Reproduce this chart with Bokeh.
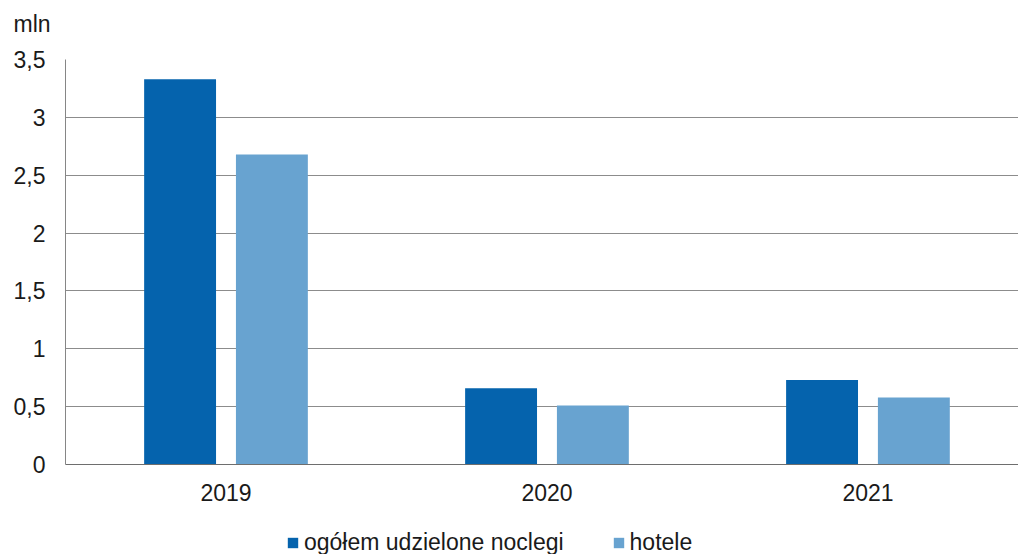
from bokeh.plotting import figure
from bokeh.layouts import column
from bokeh.models import ColumnDataSource, Range1d, FixedTicker, Title, Legend, LegendItem
from bokeh.transform import dodge
from bokeh.embed import file_html
from bokeh.resources import INLINE

years = ["2019", "2020", "2021"]
ogolem = [3.33, 0.66, 0.73]
hotele = [2.68, 0.51, 0.58]
y_ticks = [0, 0.5, 1, 1.5, 2, 2.5, 3, 3.5]
series_names = ["ogółem udzielone noclegi", "hotele"]
unit = "mln"

DARK = "#0563ad"
LIGHT = "#68a3d0"
FONT = "Liberation Sans"
FS = "23px"

xs = [i + 0.5 for i in range(len(years))]
src = ColumnDataSource(dict(x=xs, ogolem=ogolem, hotele=hotele))


def blank(fig):
    fig.outline_line_color = None
    fig.xgrid.grid_line_color = None
    fig.ygrid.grid_line_color = None


# top strip with the unit title
top = figure(width=1018, height=44, output_backend="svg", toolbar_location=None,
             x_range=Range1d(0, 1), y_range=Range1d(0, 1),
             min_border_left=65, min_border_right=0, min_border_top=36, min_border_bottom=0,
             x_axis_type=None, y_axis_type=None)
blank(top)
top.add_layout(Title(text=unit, text_font=FONT, text_font_size=FS,
                     text_font_style="normal", text_color="#1a1a1a",
                     align="left", offset=-52, standoff=0), "above")

# main chart
p = figure(width=1018, height=466, output_backend="svg", toolbar_location=None,
           x_range=Range1d(0, 2.969), y_range=Range1d(0, 3.5),
           min_border_left=65, min_border_right=0, min_border_top=15, min_border_bottom=46)
p.outline_line_color = None

p.vbar(x=dodge("x", -0.143), top="ogolem", width=0.224, source=src,
       fill_color=DARK, line_color=None)
p.vbar(x=dodge("x", 0.143), top="hotele", width=0.224, source=src,
       fill_color=LIGHT, line_color=None)

p.xgrid.grid_line_color = None
p.ygrid.grid_line_color = "#8c8c8c"
p.ygrid.ticker = FixedTicker(ticks=y_ticks)

p.yaxis.ticker = FixedTicker(ticks=y_ticks)
p.yaxis.major_label_overrides = {t: (f"{t:g}").replace(".", ",") for t in y_ticks}
p.yaxis.axis_line_color = "#868686"
p.yaxis.major_tick_line_color = None
p.yaxis.minor_tick_line_color = None
p.yaxis.major_label_standoff = 14
p.yaxis.major_label_text_font = FONT
p.yaxis.major_label_text_font_size = FS
p.yaxis.major_label_text_color = "#1a1a1a"

p.xaxis.ticker = FixedTicker(ticks=xs)
p.xaxis.major_label_overrides = {x: y for x, y in zip(xs, years)}
p.xaxis.axis_line_color = "#6e6e6e"
p.xaxis.major_tick_line_color = None
p.xaxis.minor_tick_line_color = None
p.xaxis.major_label_standoff = 13
p.xaxis.major_label_text_font = FONT
p.xaxis.major_label_text_font_size = FS
p.xaxis.major_label_text_color = "#1a1a1a"

# legend strip (its bars lie outside its own visible range; only legend swatches show)
lg = figure(width=1018, height=44, output_backend="svg", toolbar_location=None,
            x_range=Range1d(0, 2.969), y_range=Range1d(100, 101),
            min_border_left=65, min_border_right=0, min_border_top=0, min_border_bottom=0,
            x_axis_type=None, y_axis_type=None)
blank(lg)
g1 = lg.vbar(x="x", top="ogolem", width=0.224, source=src, fill_color=DARK, line_color=None)
g2 = lg.vbar(x="x", top="hotele", width=0.224, source=src, fill_color=LIGHT, line_color=None)
legend = Legend(items=[LegendItem(label=series_names[0], renderers=[g1]),
                       LegendItem(label=series_names[1], renderers=[g2])],
                orientation="horizontal", location=(221, -2),
                padding=0, margin=0, spacing=48, label_standoff=5,
                glyph_width=13, glyph_height=13,
                border_line_color=None, background_fill_alpha=0,
                label_text_font=FONT, label_text_font_size=FS,
                label_text_color="#1a1a1a")
lg.add_layout(legend, "center")

layout = column(top, p, lg, spacing=0)
open("out.html", "w").write(file_html(layout, INLINE))
